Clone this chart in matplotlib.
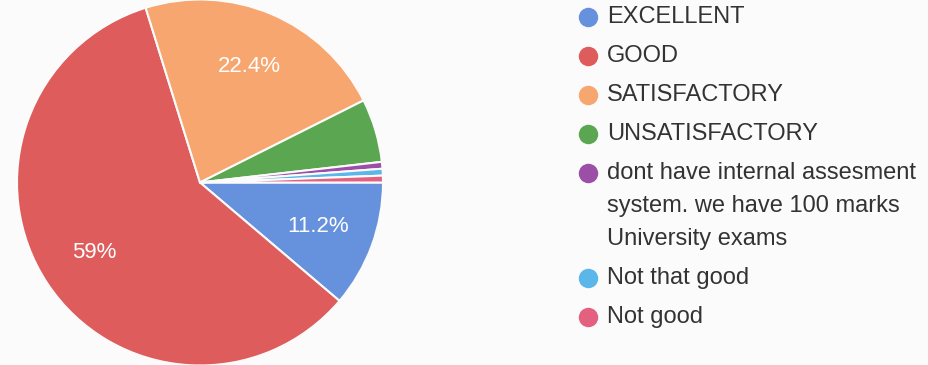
import matplotlib.pyplot as plt

plt.rcParams['font.family'] = ['Liberation Sans', 'DejaVu Sans']

# Survey answers (percent of respondents)
labels = [
    "EXCELLENT",
    "GOOD",
    "SATISFACTORY",
    "UNSATISFACTORY",
    "dont have internal assesment\nsystem. we have 100 marks\nUniversity exams",
    "Not that good",
    "Not good",
]
shares = [11.2, 59.0, 22.4, 5.6, 0.6, 0.6, 0.6]
colors = ["#6691dc", "#de5c5c", "#f7a66f", "#5ba650", "#9b4fa6", "#5bb6ea", "#e4607f"]

W, H = 929, 365
fig = plt.figure(figsize=(W / 100, H / 100), dpi=100)
fig.patch.set_facecolor("#fbfbfb")

# pie axes: center at x=200px, radius ~183px
r_px = 183
ax = fig.add_axes([(200 - r_px) / W, (H / 2 - r_px) / H, 2 * r_px / W, 2 * r_px / H])
wedges, texts, autotexts = ax.pie(
    shares,
    colors=colors,
    startangle=0,
    counterclock=False,
    radius=1.0,
    autopct=lambda p: (f"{p:.1f}%".replace(".0%", "%")) if p > 10 else "",
    pctdistance=0.69,
    wedgeprops=dict(edgecolor="#fbfbfb", linewidth=1.5),
    textprops=dict(color="white", fontsize=16),
)
ax.set_xlim(-1, 1)
ax.set_ylim(-1, 1)
ax.set_aspect("equal")
ax.axis("off")

# manual legend in pixel coordinates
lax = fig.add_axes([0, 0, 1, 1])
lax.set_xlim(0, W)
lax.set_ylim(H, 0)
lax.axis("off")

y = 17
entry_gap = 39
line_gap = 33
for lab, col in zip(labels, colors):
    lax.plot(588, y, marker="o", markersize=14, color=col, markeredgewidth=0)
    lines = lab.split("\n")
    for k, line in enumerate(lines):
        lax.text(607, y + k * line_gap, line, fontsize=17, color="#333333",
                 va="center", ha="left")
    y += (len(lines) - 1) * line_gap + entry_gap

fig.savefig("out.png", dpi=100, facecolor=fig.get_facecolor())
